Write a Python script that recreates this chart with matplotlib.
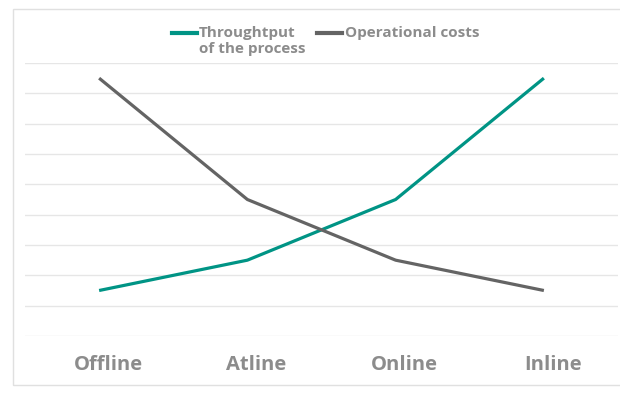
import matplotlib
matplotlib.use("Agg")
import matplotlib.pyplot as plt
import matplotlib.transforms as mtransforms
from matplotlib.lines import Line2D
from matplotlib.patches import Rectangle

categories = ["Offline", "Atline", "Online", "Inline"]
throughput = [1.5, 2.5, 4.5, 8.5]
op_costs = [8.5, 4.5, 2.5, 1.5]

TEAL = "#009485"
GREY = "#646464"
TEXT = "#8c8c8c"
GRID = "#e6e6e6"

W, H = 620, 403
fig = plt.figure(figsize=(W / 100, H / 100), dpi=100)
plt.rcParams["font.family"] = ["Open Sans", "DejaVu Sans"]

# light frame around the chart (right edge runs off the image)
fig.patches.append(Rectangle((12.5 / W, 1 - 385 / H), 1.0, (385 - 8.5) / H,
                             transform=fig.transFigure, fill=False,
                             edgecolor="#e0e0e0", linewidth=1.0))

ax = fig.add_axes([25 / W, 1 - 336 / H, (618 - 25) / W, (336 - 63) / H])
x = range(len(categories))
ax.plot(x, throughput, color=TEAL, linewidth=2.3, solid_capstyle="butt")
ax.plot(x, op_costs, color=GREY, linewidth=2.3, solid_capstyle="butt")

ax.set_xlim(-0.5, 3.5)
ax.set_ylim(0, 9)
ax.set_yticks(range(0, 10))
ax.set_yticklabels([])
ax.tick_params(axis="y", length=0)
ax.set_xticks(list(x))
ax.set_xticklabels(categories, fontsize=14.5, fontweight="bold", color=TEXT)
ax.tick_params(axis="x", length=0, pad=14)
# labels in the original sit a little right of the data points
shift = mtransforms.ScaledTranslation(9 / 100, 0, fig.dpi_scale_trans)
for lbl in ax.get_xticklabels():
    lbl.set_transform(lbl.get_transform() + shift)
ax.yaxis.grid(True, color=GRID, linewidth=1.0)
ax.set_axisbelow(True)
for sp in ax.spines.values():
    sp.set_visible(False)

# legend drawn by hand so the marker sits on the first text line
y_leg = 1 - 33 / H
y_base1 = 1 - 36.5 / H
y_base2 = 1 - 53.5 / H
leg_kw = dict(fontsize=11, fontweight="bold", color=TEXT, va="baseline",
              ha="left", transform=fig.transFigure)
fig.add_artist(Line2D([172 / W, 197 / W], [y_leg, y_leg], color=TEAL,
                      linewidth=3, transform=fig.transFigure))
fig.text(199 / W, y_base1, "Throughtput", **leg_kw)
fig.text(199 / W, y_base2, "of the process", **leg_kw)
fig.add_artist(Line2D([317 / W, 342 / W], [y_leg, y_leg], color=GREY,
                      linewidth=3, transform=fig.transFigure))
fig.text(345 / W, y_base1, "Operational costs", **leg_kw)

fig.savefig("out.png", dpi=100)
